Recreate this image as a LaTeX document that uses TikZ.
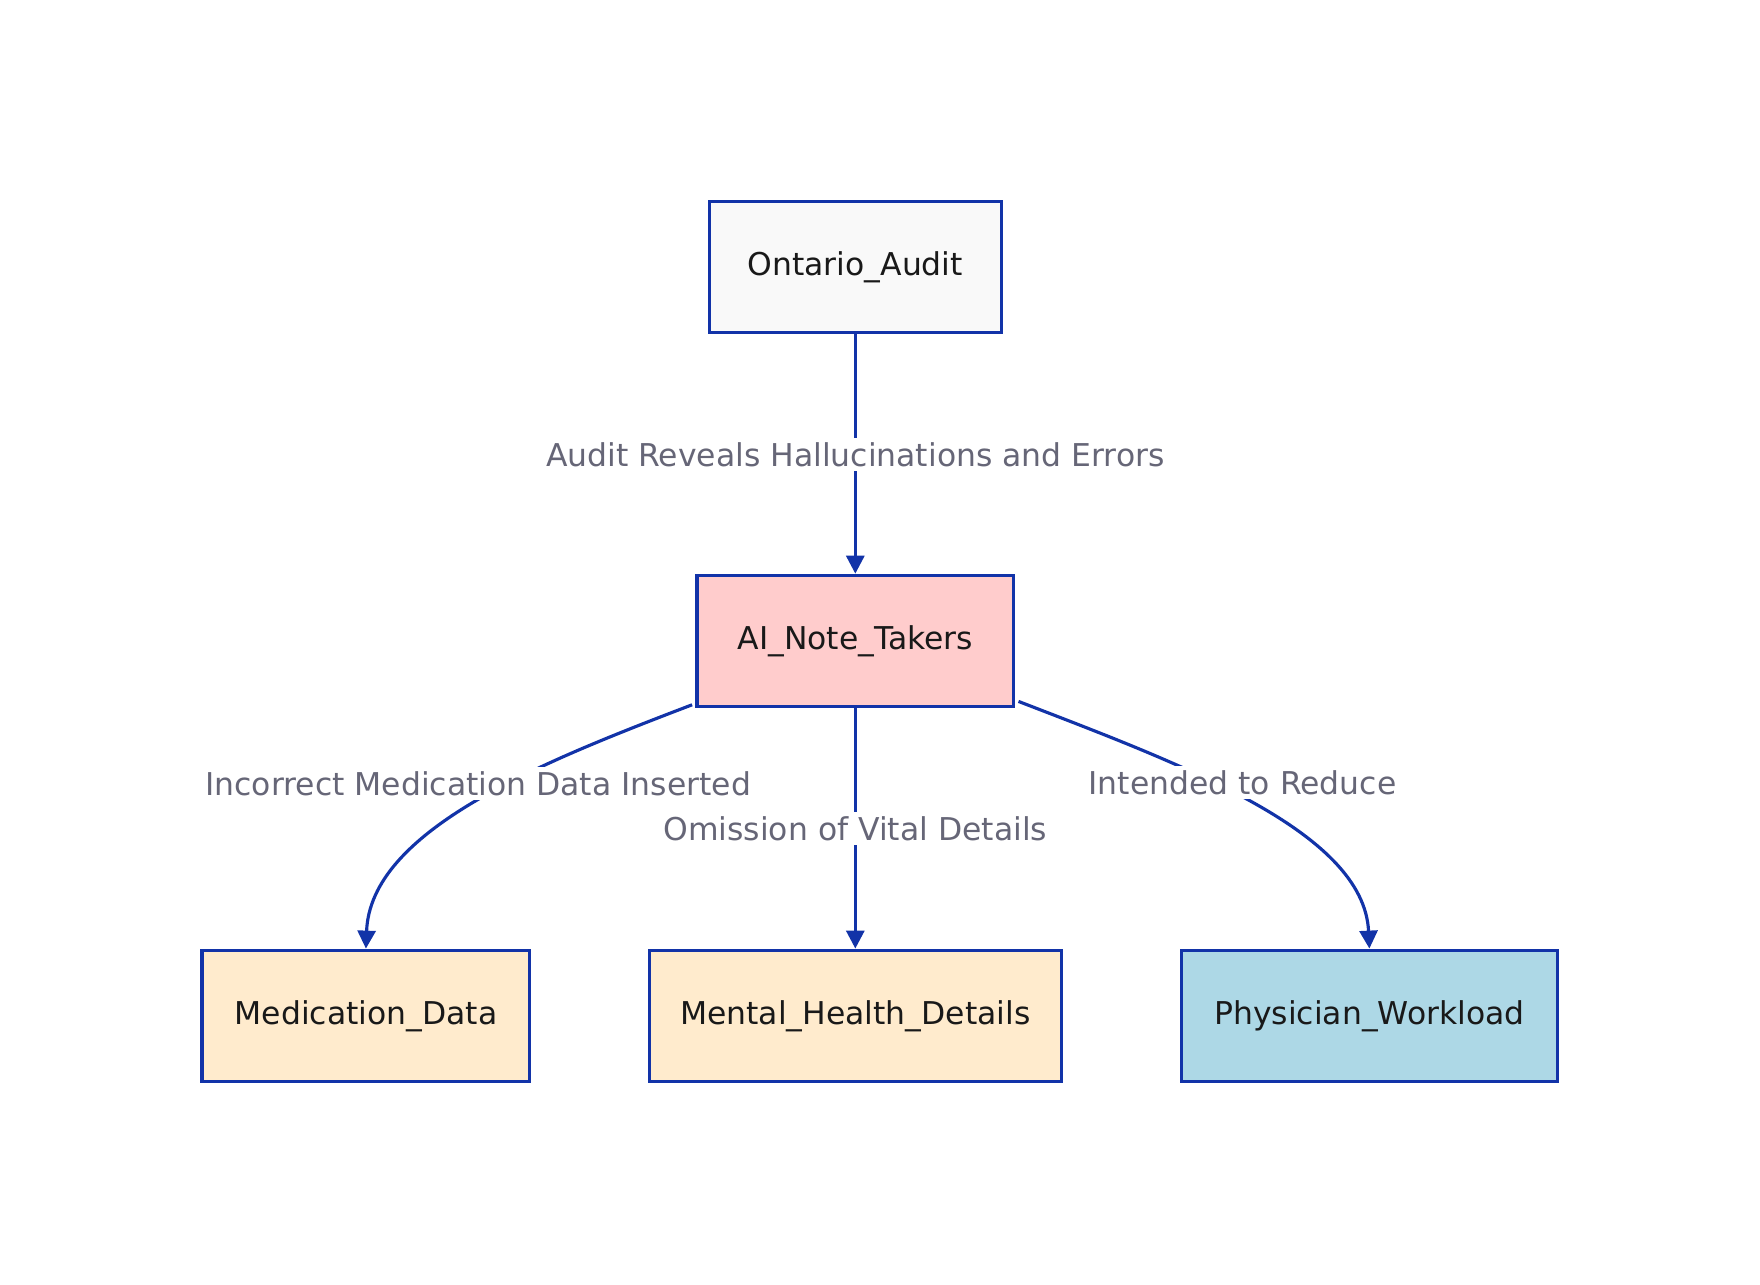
\documentclass[tikz,border=0pt]{standalone}
\usepackage{fontspec}
\setmainfont{DejaVu Sans}
\usetikzlibrary{arrows.meta}
\definecolor{edge}{HTML}{1233A8}
\definecolor{lbl}{HTML}{666677}
\begin{document}
\begin{tikzpicture}[x=0.5pt,y=-0.5pt,
  box/.style={draw=edge,line width=1.4pt,font=\fontsize{14}{16}\selectfont,text=black!90,minimum height=58.5pt,inner sep=0pt},
  arr/.style={draw=edge,line width=1.4pt,-{Triangle[length=8pt,width=8pt]}},
  lab/.style={fill=white,text=lbl,font=\fontsize{14}{16}\selectfont,inner sep=2pt}]
\useasboundingbox (0,0) rectangle (1568,1144);
\node[box,fill={rgb,255:red,249;green,249;blue,249},minimum width=130pt] (oa) at (762,238) {Ontario\_Audit};
\node[box,fill={rgb,255:red,255;green,204;blue,204},minimum width=141pt] (ai) at (762,571) {AI\_Note\_Takers};
\node[box,fill={rgb,255:red,255;green,235;blue,205},minimum width=146pt] (md) at (326,905) {Medication\_Data};
\node[box,fill={rgb,255:red,255;green,235;blue,205},minimum width=183.5pt] (mh) at (762,905) {Mental\_Health\_Details};
\node[box,fill={rgb,255:red,173;green,216;blue,230},minimum width=167.5pt] (pw) at (1220,905) {Physician\_Workload};
\draw[arr] (oa) -- (ai);
\draw[arr] (ai) -- (mh);
\draw[arr] (ai.south west) ++(-3,-3) coordinate (l1) .. controls (480,680) and (330,740) .. (md.north);
\draw[arr] (ai.south east) ++(3,-6) coordinate (r1) .. controls (1050,680) and (1215,740) .. (pw.north);
\node[lab] (t1) at (762,405) {Audit Reveals Hallucinations and Errors};
\node[lab] (t2) at (426,698) {Incorrect Medication Data Inserted};
\node[lab] (t3) at (762,738) {Omission of Vital Details};
\node[lab] (t4) at (1107,697) {Intended to Reduce};
\end{tikzpicture}
\end{document}
